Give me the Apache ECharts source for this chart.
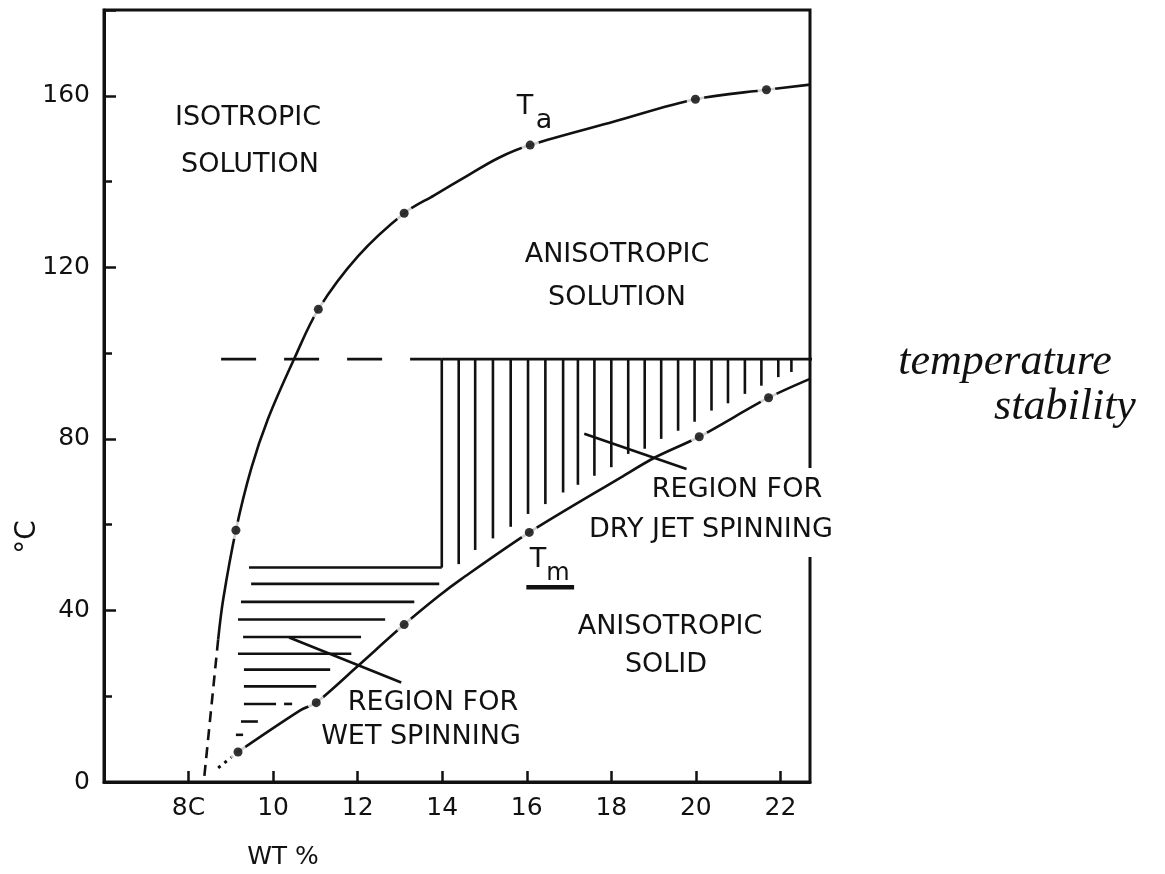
<!DOCTYPE html>
<html>
<head>
<meta charset="utf-8">
<script src="https://cdn.jsdelivr.net/npm/echarts@6/dist/echarts.min.js"></script>
<style>
  html, body { margin: 0; padding: 0; background: #fff; }
  #chart { width: 1165px; height: 874px; }
</style>
</head>
<body>
<div id="chart"></div>
<script>
// axis ticks
const xTicks = [8, 10, 12, 14, 16, 18, 20, 22];
const yTicks = [0, 40, 80, 120, 160];
const yMinorStep = 20;

// Ta curve (isotropic / anisotropic boundary), [wt%, degC]
const taCurve = [
  [8.70, 33.2], [8.82, 42.6], [9.12, 58.7], [9.48, 73.0],
  [9.88, 84.7], [10.50, 98.7], [11.07, 110.2], [12.01, 122.6], [13.10, 132.6],
  [13.81, 136.8], [14.62, 141.5], [15.33, 145.5], [16.08, 148.5], [18.07, 154.0],
  [19.99, 159.2], [21.67, 161.4], [22.70, 162.6]
];
const taDashed = [[8.70, 33.2], [8.36, 0]];
const taDots = [[9.12, 58.7], [11.07, 110.2], [13.10, 132.6], [16.08, 148.5], [19.99, 159.2], [21.67, 161.4]];

// Tm curve (melting)
const tmCurve = [
  [9.17, 7.0], [10.66, 16.8], [11.02, 18.5], [12.01, 27.1], [13.10, 36.7],
  [13.91, 43.3], [14.45, 47.3], [16.06, 58.2], [18.24, 71.1], [19.02, 75.6],
  [20.08, 80.5], [21.72, 89.6], [22.70, 94.0]
];
const tmDotted = [[8.70, 3.3], [9.17, 7.0]];
const tmDots = [[9.17, 7.0], [11.02, 18.5], [13.10, 36.7], [16.06, 58.2], [20.08, 80.5], [21.72, 89.6]];

// temperature stability line
const stabilityTemp = 98.6;
const stabilityDashed = [[8.77, stabilityTemp], [13.99, stabilityTemp]];
const stabilityLine = [[13.99, stabilityTemp], [24.22, stabilityTemp]];

// dry jet hatch: [x, bottom] (top = stabilityTemp)
const dryHatch = [
  [13.99, 50.0], [14.39, 50.8], [14.78, 54.1], [15.20, 56.8], [15.62, 59.5],
  [16.03, 62.5], [16.44, 64.8], [16.86, 67.5], [17.21, 69.3], [17.60, 71.4],
  [18.00, 73.4], [18.40, 76.5], [18.79, 77.7], [19.18, 80.0], [19.58, 81.9],
  [19.97, 84.0], [20.37, 86.6], [20.76, 88.3], [21.16, 90.5], [21.55, 92.4],
  [21.95, 94.4], [22.26, 95.6]
];
// wet hatch: [y, x start, x end]
const wetHatch = [
  [50.0, 9.43, 13.99], [46.2, 9.48, 13.93], [42.0, 9.24, 13.34], [37.9, 9.17, 12.65],
  [33.8, 9.29, 12.08], [29.9, 9.17, 11.85], [26.2, 9.31, 11.35], [22.3, 9.31, 11.02],
  [18.2, 9.31, 10.07], [18.2, 10.26, 10.45], [14.1, 9.24, 9.64], [11.0, 9.12, 9.29]
];
// label leader lines [x1, y1, x2, y2]
const leaders = [
  [17.36, 81.2, 19.78, 73.0],
  [10.38, 33.7, 13.03, 23.2]
];
const tmUnderline = [[15.99, 45.4], [17.12, 45.4]];

const ink = '#111';
const font = 'DejaVu Sans';

const segments = leaders
  .concat(dryHatch.map(d => [d[0], stabilityTemp, d[0], d[1]]))
  .concat(wetHatch.map(d => [d[1], d[0], d[2], d[0]]));

const chart = echarts.init(document.getElementById('chart'));

function lineSeries(data, style, extra) {
  return Object.assign({
    type: 'line',
    data: data,
    showSymbol: false,
    silent: true,
    lineStyle: Object.assign({ color: ink, width: 2.6 }, style),
    z: 2
  }, extra || {});
}

function label(text, x, y, size, extra) {
  return Object.assign({
    type: 'text', x: x, y: y, z: 100,
    style: {
      text: text, fontFamily: font, fontSize: size || 27, fill: ink,
      align: 'center', verticalAlign: 'middle'
    }
  }, extra || {});
}

let option = {
  animation: false,
  backgroundColor: '#fff',
  grid: {
    left: 104, right: 355, top: 10, bottom: 92,
    show: true, borderColor: ink, borderWidth: 3
  },
  xAxis: {
    type: 'value', min: 6, max: 22.7, interval: 2,
    axisLine: { show: true, lineStyle: { color: ink, width: 3 } },
    axisTick: { show: true, inside: true, length: 11, lineStyle: { color: ink, width: 2.5 } },
    axisLabel: {
      margin: 14, color: ink, fontFamily: font, fontSize: 25,
      showMinLabel: false, showMaxLabel: false,
      formatter: v => (xTicks.indexOf(v) < 0 ? '' : (v === 8 ? '8C' : String(v)))
    },
    splitLine: { show: false }
  },
  yAxis: [
    {
      type: 'value', min: 0, max: 180, interval: 40,
      axisLine: { show: true, lineStyle: { color: ink, width: 3 } },
      axisTick: { show: true, inside: true, length: 12, lineStyle: { color: ink, width: 2.5 } },
      axisLabel: {
        margin: 14, color: ink, fontFamily: font, fontSize: 25,
        formatter: v => (yTicks.indexOf(v) < 0 ? '' : String(v))
      },
      splitLine: { show: false }
    },
    {
      type: 'value', min: 0, max: 180, interval: yMinorStep, position: 'left',
      axisLine: { show: false },
      axisTick: { show: true, inside: true, length: 8, lineStyle: { color: ink, width: 2.5 } },
      axisLabel: { show: false },
      splitLine: { show: false }
    }
  ],
  series: [
    lineSeries(taCurve, {}, { smooth: 0.35 }),
    lineSeries(taDashed, { type: [11, 7] }),
    lineSeries(tmCurve, {}, { smooth: 0.3 }),
    lineSeries(tmDotted, { type: [3, 5], width: 3 }),
    lineSeries(stabilityDashed, { type: [35, 28] }),
    lineSeries(stabilityLine, {}, { clip: false }),
    lineSeries(tmUnderline, { width: 4.5 }),
    {
      type: 'custom',
      silent: true,
      data: segments,
      encode: { x: [0, 2], y: [1, 3] },
      renderItem: function (params, api) {
        const p1 = api.coord([api.value(0), api.value(1)]);
        const p2 = api.coord([api.value(2), api.value(3)]);
        return {
          type: 'line',
          shape: { x1: p1[0], y1: p1[1], x2: p2[0], y2: p2[1] },
          style: { stroke: ink, lineWidth: 2.6 }
        };
      },
      z: 2
    },
    {
      type: 'scatter', data: taDots.concat(tmDots), symbolSize: 18,
      itemStyle: { color: '#fff' }, silent: true, z: 3
    },
    {
      type: 'scatter', data: taDots.concat(tmDots), symbolSize: 9,
      itemStyle: { color: '#000' }, silent: true, z: 4
    }
  ],
  graphic: [
    { type: 'rect', z: 90, shape: { x: 800, y: 468, width: 16, height: 89 }, style: { fill: '#fff' } },
    label('ISOTROPIC', 248, 118),
    label('SOLUTION', 250, 165),
    label('T', 525, 107),
    label('a', 544, 121),
    label('ANISOTROPIC', 617, 255),
    label('SOLUTION', 617, 298),
    label('REGION FOR', 737, 490),
    label('DRY JET SPINNING', 711, 530),
    label('T', 538, 560),
    label('m', 558, 574, 24),
    label('ANISOTROPIC', 670, 627),
    label('SOLID', 666, 665),
    label('REGION FOR', 433, 703),
    label('WET SPINNING', 421, 737),
    label('WT %', 283, 857, 25),
    label('°C', 28, 537, 28, { rotation: Math.PI / 2 }),
    {
      type: 'text', x: 1005, y: 362, z: 100,
      style: { text: 'temperature', fontFamily: 'Liberation Serif', fontStyle: 'italic', fontSize: 44, fill: ink, align: 'center', verticalAlign: 'middle' }
    },
    {
      type: 'text', x: 1065, y: 407, z: 100,
      style: { text: 'stability', fontFamily: 'Liberation Serif', fontStyle: 'italic', fontSize: 44, fill: ink, align: 'center', verticalAlign: 'middle' }
    }
  ]
};

chart.setOption(option);
window.addEventListener('resize', function () {
  chart.resize();
});
</script>
</body>
</html>
